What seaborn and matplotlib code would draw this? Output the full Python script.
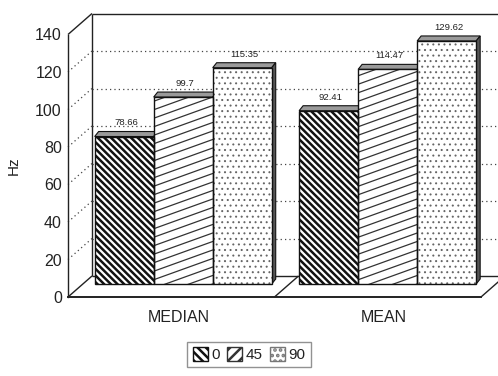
import numpy as np
import pandas as pd
import matplotlib
matplotlib.use("Agg")
import matplotlib.pyplot as plt
import matplotlib.transforms as mtransforms
from matplotlib.patches import Polygon, Rectangle, Patch
import seaborn as sns

# Pitch statistics (Hz) per head angle
stats = ["MEDIAN", "MEAN"]
angles = ["0", "45", "90"]
median_hz = [78.66, 99.7, 115.35]
mean_hz = [92.41, 114.47, 129.62]
y_ticks = [0, 20, 40, 60, 80, 100, 120, 140]

df = pd.DataFrame({
    "stat": np.repeat(stats, len(angles)),
    "angle": angles * len(stats),
    "Hz": median_hz + mean_hz,
})

sns.set_style("white")
plt.rcParams["font.family"] = ["Liberation Sans", "DejaVu Sans"]
plt.rcParams["hatch.linewidth"] = 1.8
INK = "#222222"

W, H = 498, 376
fig = plt.figure(figsize=(W / 100, H / 100), dpi=100)
ax_l, ax_b, ax_w, ax_h = 68, 79, 413, 262.5
ax = fig.add_axes([ax_l / W, ax_b / H, ax_w / W, ax_h / H])

sns.barplot(data=df, x="stat", y="Hz", hue="angle", order=stats,
            hue_order=angles, palette=["white"] * 3, saturation=1,
            width=0.866, gap=0, linewidth=0, errorbar=None,
            legend=False, ax=ax)

xl, xr = -0.49, 1.53
ymax = y_ticks[-1]
ax.set_xlim(xl, xr)
ax.set_ylim(0, ymax)

# data units per pixel
XPX = (xr - xl) / ax_w
YPX = ymax / ax_h

# depth of the box (back wall offset) and bar plane offset, in pixels
DEP_X, DEP_Y = 24, 21
BAR_X, BAR_Y = 15, 13
TOP_X, TOP_Y = 4, 5
Dx, Dy = DEP_X * XPX, DEP_Y * YPX

bar_tr = mtransforms.offset_copy(ax.transData, fig=fig, x=BAR_X, y=BAR_Y,
                                 units="dots")

# ---- box frame: floor, left wall, back wall ----
line_kw = dict(color=INK, lw=1.0, clip_on=False, zorder=1,
               solid_capstyle="butt")
dot_kw = dict(color="#444444", lw=0.9, ls=(0, (1, 2.5)), clip_on=False,
              zorder=1)
ax.plot([xl, xl + Dx], [0, Dy], **line_kw)
ax.plot([xl + Dx, xr + Dx], [Dy, Dy], **line_kw)
ax.plot([xr, xr + Dx], [0, Dy], **line_kw)
xm = (xl + xr) / 2
ax.plot([xm, xm + Dx], [0, Dy], **line_kw)
ax.plot([xl + Dx, xl + Dx], [Dy, ymax + Dy], **line_kw)
ax.plot([xl + Dx, xr + Dx], [ymax + Dy, ymax + Dy], **line_kw)
ax.plot([xl, xl + Dx], [ymax, ymax + Dy], **line_kw)
for v in y_ticks[1:-1]:
    ax.plot([xl, xl + Dx], [v, v + Dy], **dot_kw)
    ax.plot([xl + Dx, xr + Dx], [v + Dy, v + Dy], **dot_kw)

# ---- bars: hatching, outlines, 3D top and side ----
tx, ty = TOP_X * XPX, TOP_Y * YPX
for hi, cont in enumerate(ax.containers):
    for bar, val in zip(cont, cont.datavalues):
        bar.set_transform(bar_tr)
        bar.set_zorder(2)
        x0, w, h = bar.get_x(), bar.get_width(), bar.get_height()
        if hi == 0:
            bar.set_hatch("\\" * 5)
            bar.set_edgecolor("#111111")
            if hasattr(bar, "set_hatch_linewidth"):
                bar.set_hatch_linewidth(1.8)
        elif hi == 2:
            bar.set_hatch("...")
            bar.set_edgecolor("#666666")
            if hasattr(bar, "set_hatch_linewidth"):
                bar.set_hatch_linewidth(0.7)
        else:
            # shallow diagonal stripes
            slope = 0.36 * (YPX / XPX)
            step = 8.5 * YPX
            for c in np.arange(-w * slope, h + step, step):
                ln, = ax.plot([x0, x0 + w], [c, c + w * slope],
                              color="#333333", lw=0.9, transform=bar_tr,
                              zorder=2.1)
                ln.set_clip_path(bar)
        ax.add_patch(Rectangle((x0, 0), w, h, fill=False, edgecolor="#111111",
                               lw=1.0, transform=bar_tr, zorder=2.2))
        ax.add_patch(Polygon([(x0, h), (x0 + w, h), (x0 + w + tx, h + ty),
                              (x0 + tx, h + ty)], closed=True,
                             facecolor="#9a9a9a", edgecolor="#111111",
                             lw=0.8, transform=bar_tr, zorder=1.8))
        ax.add_patch(Polygon([(x0 + w, 0), (x0 + w, h),
                              (x0 + w + tx, h + ty), (x0 + w + tx, ty)],
                             closed=True, facecolor="#555555",
                             edgecolor="#111111", lw=0.8, transform=bar_tr,
                             zorder=1.8))
        ax.annotate(f"{val:g}", xy=(x0 + w / 2 + tx / 2, h + ty),
                    xycoords=bar_tr, xytext=(0, 3), textcoords="offset points",
                    ha="center", va="bottom", fontsize=6.8, color=INK,
                    zorder=3)

# ---- axes, labels, legend ----
for side in ("top", "right"):
    ax.spines[side].set_visible(False)
ax.spines["left"].set_color(INK)
ax.spines["left"].set_linewidth(1.0)
ax.spines["bottom"].set_color(INK)
ax.spines["bottom"].set_linewidth(1.4)
ax.set_yticks(y_ticks)
ax.set_yticklabels([str(t) for t in y_ticks])
ax.set_xticks(np.arange(len(stats)) + 11 * XPX)
ax.set_xticklabels(stats)
ax.tick_params(axis="y", length=0, pad=4.5, labelsize=11.5, labelcolor=INK)
ax.tick_params(axis="x", length=0, pad=9, labelsize=11.5, labelcolor=INK)
ax.set_xlabel("")
ax.set_ylabel("Hz", fontsize=11, color=INK)
ax.yaxis.set_label_coords(-47 / ax_w, 0.5)
ax.grid(False)

handles = [
    Patch(facecolor="white", edgecolor="#111111", hatch="\\" * 4),
    Patch(facecolor="white", edgecolor="#333333", hatch="///"),
    Patch(facecolor="white", edgecolor="#777777", hatch="..."),
]
fig.legend(handles, angles, loc="center", bbox_to_anchor=(0.5, 21.5 / H),
           bbox_transform=fig.transFigure, ncol=3, fontsize=11,
           frameon=True, fancybox=False, edgecolor="#777777",
           handlelength=1.0, handleheight=1.0, handletextpad=0.2,
           columnspacing=0.5, borderpad=0.35, labelcolor=INK)

fig.savefig("out.png", dpi=100)
